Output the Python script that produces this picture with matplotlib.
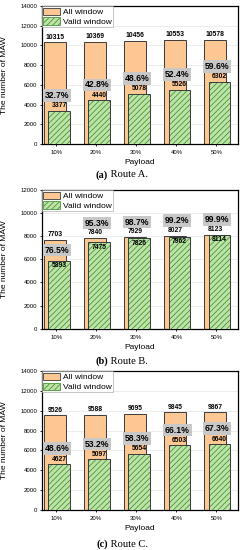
import numpy as np
import matplotlib
matplotlib.use("Agg")
import matplotlib.pyplot as plt

payload = ["10%", "20%", "30%", "40%", "50%"]

# Route A
all_a = [10315, 10369, 10456, 10553, 10578]
valid_a = [3377, 4440, 5078, 5526, 6302]
pct_a = [32.7, 42.8, 48.6, 52.4, 59.6]

# Route B
all_b = [7703, 7840, 7929, 8027, 8123]
valid_b = [5893, 7475, 7826, 7962, 8114]
pct_b = [76.5, 95.3, 98.7, 99.2, 99.9]

# Route C
all_c = [9526, 9588, 9695, 9845, 9867]
valid_c = [4627, 5097, 5654, 6503, 6640]
pct_c = [48.6, 53.2, 58.3, 66.1, 67.3]

ylims = [14000, 12000, 14000]
captions = [("(a)", " Route A."), ("(b)", " Route B."), ("(c)", " Route C.")]

plt.rcParams['font.family'] = ['Liberation Sans', 'DejaVu Sans']
plt.rcParams['hatch.linewidth'] = 0.6

ORANGE = '#FDC794'
GREEN = '#BDE3A8'
HATCH = '#4A9638'
EDGE = '#3A3A3A'

fig = plt.figure(figsize=(2.43, 5.5), dpi=100)

# axes boxes in figure fraction (left, bottom, width, height)
boxes = [
    [0.1716, 0.7382, 0.8066, 0.2509],
    [0.1716, 0.4024, 0.8066, 0.2522],
    [0.1716, 0.0727, 0.8066, 0.2527],
]
caption_y = [0.682, 0.3424, 0.01]


def draw_panel(ax, all_w, valid_w, pct, ymax, inside_valid, pct_y):
    x = np.arange(len(payload))
    ax.bar(x - 0.03, all_w, width=0.54, color=ORANGE, edgecolor=EDGE,
           linewidth=0.7, zorder=2, label="All window")
    # hatch in green, outline in dark grey
    ax.bar(x + 0.07, valid_w, width=0.53, color=GREEN, edgecolor=HATCH,
           linewidth=0, hatch='//////', zorder=3)
    ax.bar(x + 0.07, valid_w, width=0.53, fill=False, edgecolor=EDGE,
           linewidth=0.7, zorder=3)

    for i in range(len(x)):
        ax.text(x[i] - 0.03, all_w[i] + 150, f"{all_w[i]}", ha='center',
                va='bottom', fontsize=4.9, fontweight='bold', zorder=5)
        if inside_valid:
            ax.text(x[i] + 0.07, valid_w[i] - 120, f"{valid_w[i]}", ha='center',
                    va='top', fontsize=4.9, fontweight='bold', zorder=5)
        else:
            ax.text(x[i] + 0.07, valid_w[i] + 150, f"{valid_w[i]}", ha='center',
                    va='bottom', fontsize=4.9, fontweight='bold', zorder=5)
        ax.text(x[i] + 0.02, pct_y[i], f"{pct[i]}%", ha='center', va='center',
                fontsize=6.2, fontweight='bold', zorder=6,
                bbox=dict(boxstyle='square,pad=0.22', facecolor='#C8C8C8',
                          edgecolor='none'))

    ax.set_xlim(-0.36, 4.53)
    ax.set_ylim(0, ymax)
    ax.set_yticks(np.arange(0, ymax + 1, 2000))
    ax.set_xticks(x)
    ax.set_xticklabels(payload)
    ax.tick_params(axis='both', labelsize=4.3, length=1.5, width=0.6, pad=1.5)
    ax.tick_params(axis='x', pad=3)
    ax.grid(axis='y', color='#E4E4E4', linewidth=0.5, zorder=0)
    ax.set_axisbelow(True)
    for s in ax.spines.values():
        s.set_linewidth(0.9)
    ax.set_xlabel("Payload", fontsize=6, labelpad=3)
    ax.set_ylabel("The number of MAW", fontsize=6)
    ax.yaxis.set_label_coords(-0.17, 0.5)

    handles = [plt.Rectangle((0, 0), 1, 1, facecolor=ORANGE, edgecolor=EDGE, linewidth=0.6),
               plt.Rectangle((0, 0), 1, 1, facecolor=GREEN, edgecolor=HATCH,
                             hatch='//////', linewidth=0.6)]
    leg = ax.legend(handles, ["All window", "Valid window"], loc='upper left',
                    fontsize=6, frameon=True, fancybox=False, borderpad=0.15,
                    handlelength=2.0, handleheight=1.0, labelspacing=0.15,
                    handletextpad=0.3, borderaxespad=0.05)
    leg.get_frame().set_edgecolor('#9A9A9A')
    leg.get_frame().set_linewidth(0.5)


data = [(all_a, valid_a, pct_a), (all_b, valid_b, pct_b), (all_c, valid_c, pct_c)]

for k in range(3):
    ax = fig.add_axes(boxes[k])
    all_w, valid_w, pct = data[k]
    if k == 1:
        pct_y = [(valid_w[0] + all_w[0]) / 2] + [a + 1300 for a in all_w[1:]]
    else:
        pct_y = [v + 1550 for v in valid_w]
    draw_panel(ax, all_w, valid_w, pct, ylims[k], k == 1, pct_y)

    fig.text(0.444, caption_y[k], captions[k][0], ha='right', va='center',
             fontsize=7.6, fontweight='bold', family='Liberation Serif')
    fig.text(0.444, caption_y[k], captions[k][1], ha='left', va='center',
             fontsize=7.6, family='Liberation Serif')

fig.savefig("out.png", dpi=100)
